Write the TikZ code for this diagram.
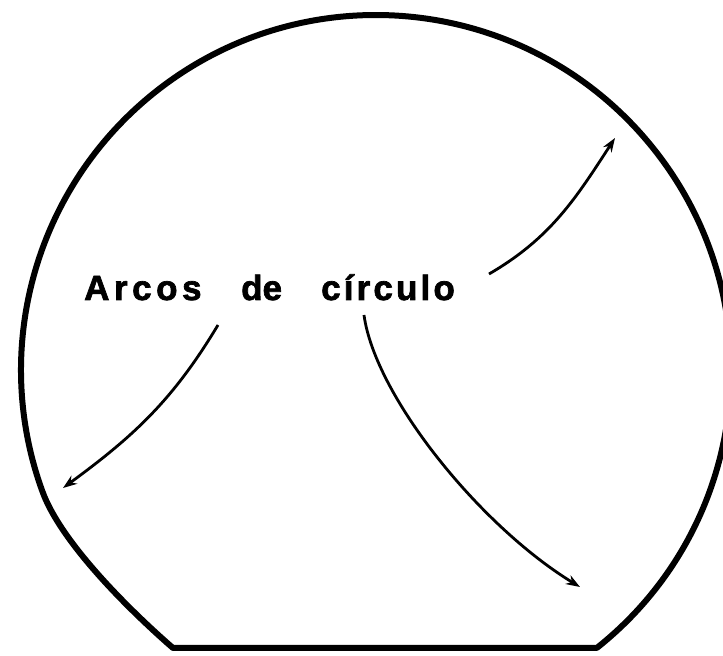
\documentclass[tikz,border=0pt]{standalone}
\usepackage{fontspec}
\setmainfont{Liberation Sans}
\usetikzlibrary{arrows.meta, positioning, calc}

\begin{document}
\begin{tikzpicture}[
  x=1pt, y=1pt,
  outline/.style={line width=6pt, line join=round, line cap=round},
  wordtext/.style={font=\bfseries\fontsize{35}{40}\selectfont\addfontfeature{FakeBold=2},
                   inner sep=0pt, anchor=base west},
  arr/.style={-{Stealth[length=14pt, width=10pt]}, line width=2.8pt},
]
\useasboundingbox (0,0) rectangle (723,656);

% truncated circle
\coordinate (c) at (376,286);
\coordinate (left corner) at (173,8);
\draw[outline] ($(c)+(-51.5:355)$) arc[start angle=-51.5, end angle=200, radius=355]
  .. controls (63,108) and (143,34) .. (left corner) -- cycle;

% label
\node[wordtext] (arcos) at (84,356) {\addfontfeature{LetterSpace=13}Arcos};
\node[wordtext] (de) at (241,356) {de};
\node[wordtext] (circulo) at (321,356) {\addfontfeature{LetterSpace=9}círculo};

% arrow ends
\coordinate (s1) at (489,382);
\coordinate (t1) at (615,518);
\coordinate (s2) at (218,331);
\coordinate (t2) at (63,168);
\coordinate (s3) at (364,341);
\coordinate (t3) at (580,69);

\draw[arr] (s1) .. controls (551,418) and (576,458) .. (t1);
\draw[arr] (s2) .. controls (173,256) and (134,220) .. (t2);
\draw[arr] (s3) .. controls (375,260) and (480,130) .. (t3);

\end{tikzpicture}
\end{document}
